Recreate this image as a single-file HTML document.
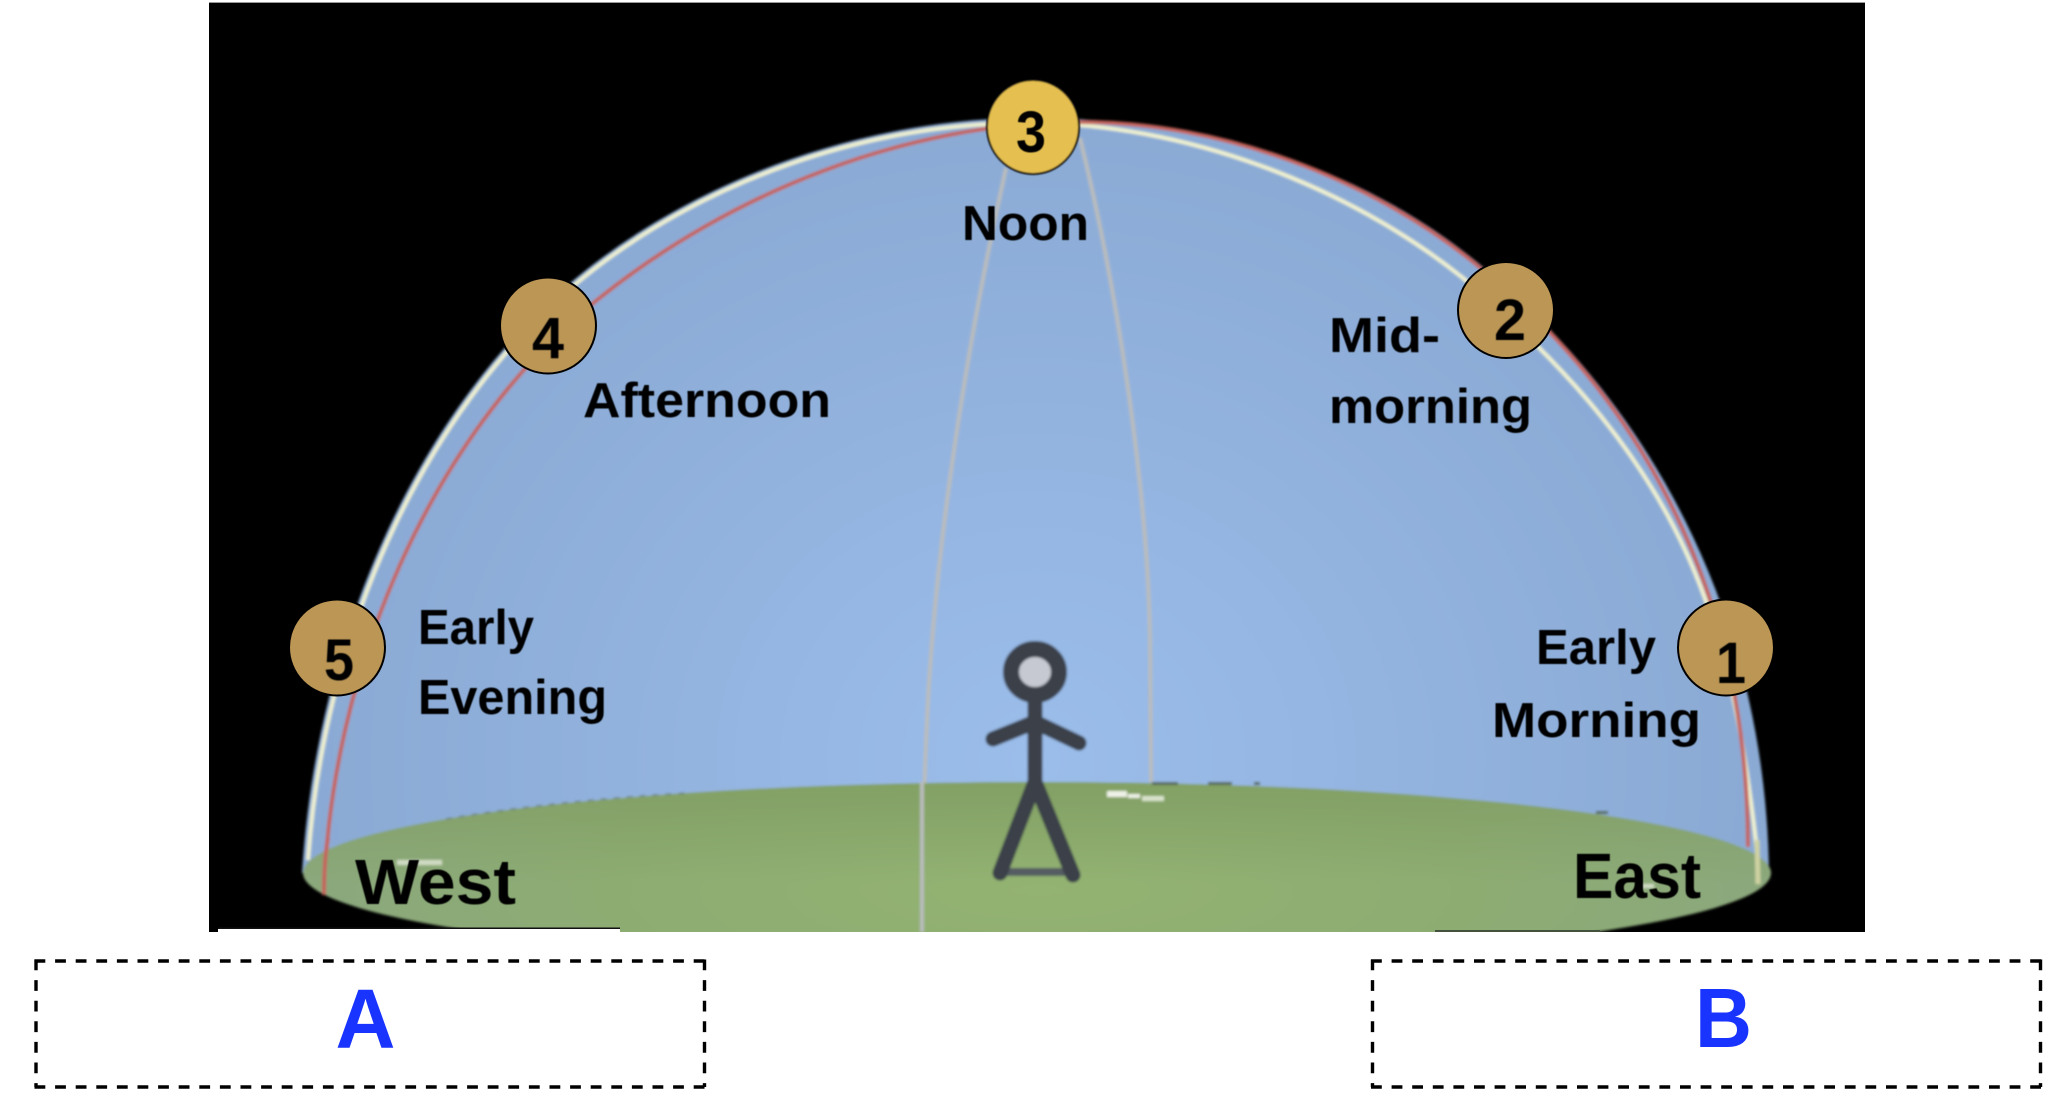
<!DOCTYPE html>
<html><head><meta charset="utf-8"><style>
html,body{margin:0;padding:0;background:#fff}
svg{display:block}
text{font-family:"Liberation Sans",sans-serif;font-weight:bold;fill:#000}
</style></head><body>
<svg width="2058" height="1095" viewBox="0 0 2058 1095" xmlns="http://www.w3.org/2000/svg">
<defs>
<radialGradient id="sky" gradientUnits="userSpaceOnUse" cx="1036" cy="760" r="760" gradientTransform="translate(1036 760) scale(1 .9) translate(-1036 -760)">
<stop offset="0" stop-color="#9bbdea"/><stop offset=".55" stop-color="#92b2de"/><stop offset="1" stop-color="#89a9d3"/>
</radialGradient>
<radialGradient id="ground" gradientUnits="userSpaceOnUse" cx="1040" cy="890" r="720" gradientTransform="translate(1040 890) scale(1 .25) translate(-1040 -890)">
<stop offset="0" stop-color="#93b372"/><stop offset=".6" stop-color="#8dac72"/><stop offset="1" stop-color="#8ba87c"/>
</radialGradient>
<linearGradient id="gtop" x1="0" y1="0" x2="0" y2="1"><stop offset="0" stop-color="#7f9d5f" stop-opacity=".75"/><stop offset=".55" stop-color="#7f9d5f" stop-opacity="0"/></linearGradient>
<filter id="b1" x="-5%" y="-5%" width="110%" height="110%"><feGaussianBlur stdDeviation="1.3"/></filter>
<filter id="b2" x="-5%" y="-5%" width="110%" height="110%"><feGaussianBlur stdDeviation=".6"/></filter>
<filter id="b3" x="-10%" y="-10%" width="120%" height="120%"><feGaussianBlur stdDeviation=".9"/></filter>
<clipPath id="c"><rect x="209" y="3" width="1656" height="929"/></clipPath>
</defs>

<rect x="209" y="2" width="1656" height="1" fill="#999"/>
<rect x="209" y="3" width="1656" height="929" fill="#000"/>

<g clip-path="url(#c)">
<g filter="url(#b1)">
<!-- sky dome -->
<path d="M302 873 C316 645 412 415 575 279 C699 176 870 118 1030 118 C1220 118 1369 174 1477 262 C1670 420 1766 640 1769 873 Z" fill="url(#sky)"/>
<!-- meridians -->
<path d="M1006 168 C972 320 938 520 928 700 C923 800 922 880 922 932" fill="none" stroke="#b9bcbc" stroke-width="4"/>
<path d="M1080 138 C1120 300 1148 500 1150 640 L1151 782" fill="none" stroke="#b9bcbc" stroke-width="4"/>
<!-- cream arc -->
<path d="M308 860 C323 645 415 418 578 282 C701 180 870 122 1030 123 C1183 123 1347 185 1463 278 C1690 470 1732 622 1758 860" fill="none" stroke="#eef0cf" stroke-width="4"/>
<!-- red arc -->
<path d="M324 895 C330 677 427 437 597 300 C731 192 908 122 1080 122 C1220 122 1369 177 1477 265 C1662 416 1748 620 1748 847" fill="none" stroke="#c4635c" stroke-width="4"/>
<!-- ground -->
<ellipse cx="1037" cy="873" rx="734" ry="91" fill="url(#ground)"/>
<ellipse cx="1037" cy="873" rx="734" ry="91" fill="url(#gtop)"/>
<path d="M1757 840 L1758 884" stroke="#cfd2a2" stroke-width="5"/>
<path d="M328 838 Q324 860 324 895" stroke="#c4635c" stroke-width="4" fill="none"/>
<path d="M922 782 L922 932" stroke="#b9bcbc" stroke-width="4"/>
<!-- horizon specks -->
<g fill="#56695c">
<rect x="1152" y="782" width="26" height="3"/><rect x="1208" y="782" width="24" height="3"/><rect x="1254" y="782" width="6" height="3"/>
<rect x="1596" y="811" width="12" height="3"/>
</g>
<path d="M446 819 Q560 800 689 793" fill="none" stroke="#66796f" stroke-width="2" stroke-dasharray="6 7" opacity=".6"/>
<g fill="#eef2e6">
<rect x="1107" y="791" width="20" height="6"/><rect x="1128" y="794" width="12" height="4"/><rect x="1142" y="796" width="22" height="5" opacity=".8"/>
<rect x="397" y="860" width="45" height="5" opacity=".7"/><rect x="1640" y="884" width="14" height="4" opacity=".7"/>
</g>
<!-- person -->
<g fill="none" stroke="#3b4149" stroke-linecap="round" stroke-linejoin="round">
<path d="M1000 872 L1072 872" stroke="#555c62" stroke-width="8"/>
<path d="M1035 700 L1035 790" stroke-width="15"/>
<path d="M993 739 L1035 722 L1079 743" stroke-width="15"/>
<path d="M1035 782 L1000 873 M1035 782 L1073 875" stroke-width="15"/>
<ellipse cx="1035" cy="672" rx="24" ry="23" fill="#c6c9d1" stroke-width="16"/>
</g>
</g>
<rect x="218" y="927.5" width="402" height="1.5" fill="#111"/>
<rect x="218" y="929" width="402" height="3" fill="#fff"/>
<rect x="1435" y="930" width="165" height="2" fill="#44513c"/>
</g>

<g filter="url(#b3)"><ellipse cx="1033" cy="127" rx="46" ry="47" fill="#e5bf4f" stroke="#111" stroke-width="2"/></g>
<g stroke="#000" stroke-width="2">
<circle cx="548" cy="325.5" r="48" fill="#bb9655"/>
<circle cx="1506" cy="310" r="48" fill="#bb9655"/>
<circle cx="337" cy="647.5" r="48" fill="#bb9655"/>
<circle cx="1726" cy="647.5" r="48" fill="#bb9655"/>
</g>

<g filter="url(#b2)">
<g font-size="58" text-anchor="start">
<text x="1016" y="152" textLength="30" lengthAdjust="spacingAndGlyphs">3</text>
<text x="532" y="358" textLength="32" lengthAdjust="spacingAndGlyphs">4</text>
<text x="1494" y="340" textLength="32" lengthAdjust="spacingAndGlyphs">2</text>
<text x="324" y="680" textLength="30" lengthAdjust="spacingAndGlyphs">5</text>
<text x="1716" y="683" textLength="30" lengthAdjust="spacingAndGlyphs">1</text>
</g>
<g font-size="49">
<text x="962" y="240" textLength="127" lengthAdjust="spacingAndGlyphs">Noon</text>
<text x="583" y="417" textLength="248" lengthAdjust="spacingAndGlyphs">Afternoon</text>
<text x="1329" y="352" textLength="111" lengthAdjust="spacingAndGlyphs">Mid-</text>
<text x="1329" y="423" textLength="203" lengthAdjust="spacingAndGlyphs">morning</text>
<text x="418" y="644" textLength="116" lengthAdjust="spacingAndGlyphs">Early</text>
<text x="418" y="714" textLength="189" lengthAdjust="spacingAndGlyphs">Evening</text>
<text x="1536" y="664" textLength="120" lengthAdjust="spacingAndGlyphs">Early</text>
<text x="1492" y="737" textLength="209" lengthAdjust="spacingAndGlyphs">Morning</text>
</g>
<g font-size="64">
<text x="355" y="904" textLength="161" lengthAdjust="spacingAndGlyphs">West</text>
<text x="1573" y="898" textLength="128" lengthAdjust="spacingAndGlyphs">East</text>
</g>
</g>

<g fill="none" stroke="#000" stroke-width="3.4" stroke-dasharray="10.8 9.8">
<path d="M34.5 961 H705"/><path d="M36 959.5 V1087"/><path d="M34.5 1087 H705"/><path d="M704.5 959.5 V1087"/>
<path d="M1371 961 H2042"/><path d="M1372.5 959.5 V1087"/><path d="M1371 1087 H2042"/><path d="M2040.5 959.5 V1087"/>
</g>
<text x="335.5" y="1048" font-size="84" style="fill:#1a34ff" textLength="60" lengthAdjust="spacingAndGlyphs">A</text>
<text x="1695" y="1047" font-size="84" style="fill:#1a34ff" textLength="57" lengthAdjust="spacingAndGlyphs">B</text>
</svg>
</body></html>
